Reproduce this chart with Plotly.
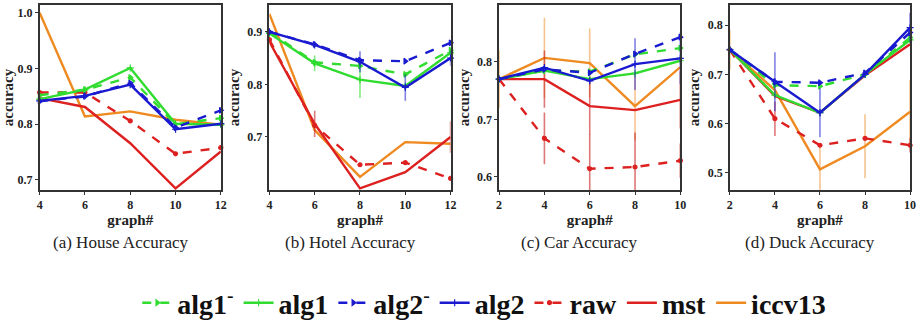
import plotly.graph_objects as go

# ---------------- data ----------------
series_names = ["alg1<sup>-</sup>", "alg1", "alg2<sup>-</sup>", "alg2", "raw", "mst", "iccv13"]
captions = ["(a) House Accuracy", "(b) Hotel Accuracy", "(c) Car Accuracy", "(d) Duck Accuracy"]

house_x = [4, 6, 8, 10, 12]
house_alg1m = [0.852, 0.862, 0.884, 0.800, 0.811]
house_alg1 = [0.845, 0.862, 0.901, 0.801, 0.799]
house_alg2m = [0.841, 0.850, 0.874, 0.794, 0.825]
house_alg2 = [0.842, 0.851, 0.871, 0.791, 0.801]
house_raw = [0.857, 0.857, 0.806, 0.747, 0.758]
house_mst = [0.847, 0.831, 0.766, 0.685, 0.751]
house_iccv = [1.000, 0.814, 0.823, 0.808, 0.799]

hotel_x = [4, 6, 8, 10, 12]
hotel_alg1m = [0.900, 0.842, 0.835, 0.819, 0.865]
hotel_alg1 = [0.897, 0.840, 0.809, 0.797, 0.860]
hotel_alg2m = [0.900, 0.876, 0.846, 0.844, 0.879]
hotel_alg2 = [0.900, 0.875, 0.843, 0.794, 0.850]
hotel_raw = [0.885, 0.722, 0.647, 0.651, 0.621]
hotel_mst = [0.881, 0.725, 0.602, 0.633, 0.700]
hotel_iccv = [0.934, 0.713, 0.624, 0.690, 0.687]
hotel_err_alg1 = [0.0, 0.015, 0.035, 0.0, 0.0]
hotel_err_alg2 = [0.0, 0.0, 0.02, 0.025, 0.015]
hotel_err_mst = [0.0, 0.025, 0.0, 0.0, 0.03]

car_x = [2, 4, 6, 8, 10]
car_alg1m = [0.770, 0.785, 0.783, 0.813, 0.824]
car_alg1 = [0.770, 0.785, 0.770, 0.780, 0.802]
car_alg2m = [0.770, 0.787, 0.781, 0.814, 0.843]
car_alg2 = [0.770, 0.790, 0.767, 0.796, 0.806]
car_raw = [0.770, 0.667, 0.614, 0.617, 0.628]
car_mst = [0.770, 0.770, 0.723, 0.716, 0.734]
car_iccv = [0.770, 0.807, 0.798, 0.723, 0.791]
car_err_alg2 = [0.0, 0.0, 0.0, 0.045, 0.045]
car_err_raw = [0.0, 0.045, 0.06, 0.06, 0.03]
car_err_mst = [0.0, 0.05, 0.05, 0.0, 0.05]
car_err_iccv = [0.05, 0.07, 0.06, 0.06, 0.0]

duck_x = [2, 4, 6, 8, 10]
duck_alg1m = [0.750, 0.678, 0.676, 0.700, 0.775]
duck_alg1 = [0.750, 0.658, 0.622, 0.700, 0.770]
duck_alg2m = [0.750, 0.685, 0.683, 0.703, 0.785]
duck_alg2 = [0.750, 0.685, 0.622, 0.700, 0.795]
duck_raw = [0.750, 0.610, 0.556, 0.570, 0.556]
duck_mst = [0.750, 0.656, 0.622, 0.698, 0.761]
duck_iccv = [0.750, 0.668, 0.507, 0.554, 0.624]
duck_err_alg2 = [0.0, 0.06, 0.05, 0.0, 0.03]
duck_err_raw = [0.0, 0.035, 0.0, 0.0, 0.015]
duck_err_iccv = [0.04, 0.0, 0.05, 0.065, 0.065]

house_yrange = [0.682, 1.014]
hotel_yrange = [0.599, 0.951]
car_yrange = [0.577, 0.899]
duck_yrange = [0.465, 0.841]

house_yticks = [0.7, 0.8, 0.9, 1.0]
hotel_yticks = [0.7, 0.8, 0.9]
car_yticks = [0.6, 0.7, 0.8]
duck_yticks = [0.5, 0.6, 0.7, 0.8]

# ---------------- styling ----------------
GREEN = "#2fdc2f"
BLUE = "#1a1ad0"
RED = "#dd2020"
ORANGE = "#ef8a20"
styles = [
    dict(color=GREEN, dash="dash", symbol="triangle-right", size=5),
    dict(color=GREEN, dash="solid", symbol="cross-thin", size=5),
    dict(color=BLUE, dash="dash", symbol="triangle-right", size=5),
    dict(color=BLUE, dash="solid", symbol="cross-thin", size=5),
    dict(color=RED, dash="dash", symbol="circle", size=4),
    dict(color=RED, dash="solid", symbol=None, size=0),
    dict(color=ORANGE, dash="solid", symbol=None, size=0),
]
err_colors = {GREEN: "rgba(47,220,47,0.6)", BLUE: "rgba(26,26,208,0.55)",
              RED: "rgba(200,30,30,0.6)", ORANGE: "rgba(239,138,32,0.5)"}

panels = [
    (house_x, [house_alg1m, house_alg1, house_alg2m, house_alg2, house_raw, house_mst, house_iccv],
     [None] * 7, house_yrange, house_yticks, [4, 12]),
    (hotel_x, [hotel_alg1m, hotel_alg1, hotel_alg2m, hotel_alg2, hotel_raw, hotel_mst, hotel_iccv],
     [None, hotel_err_alg1, None, hotel_err_alg2, None, hotel_err_mst, None], hotel_yrange, hotel_yticks, [4, 12]),
    (car_x, [car_alg1m, car_alg1, car_alg2m, car_alg2, car_raw, car_mst, car_iccv],
     [None, None, None, car_err_alg2, car_err_raw, car_err_mst, car_err_iccv], car_yrange, car_yticks, [2, 10]),
    (duck_x, [duck_alg1m, duck_alg1, duck_alg2m, duck_alg2, duck_raw, duck_mst, duck_iccv],
     [None, None, None, duck_err_alg2, duck_err_raw, None, duck_err_iccv], duck_yrange, duck_yticks, [2, 10]),
]

W, H = 924, 332
px_left = [37, 269, 501, 734]
px_right = [220, 452, 684, 916]
px_top, px_bottom = 5, 190

fig = go.Figure()
SERIF = "Liberation Serif"

order = [6, 4, 5, 1, 0, 3, 2]
for p, (xs, ys_list, errs, yr, yt, xr) in enumerate(panels):
    ax = "" if p == 0 else str(p + 1)
    for k in order:
        st = styles[k]
        err = errs[k]
        mode = "lines+markers" if st["symbol"] else "lines"
        tr = go.Scatter(
            x=xs, y=ys_list[k], mode=mode, name=series_names[k],
            legendgroup=series_names[k], showlegend=(p == 0), legendrank=k + 1,
            line=dict(color=st["color"], dash=st["dash"], width=2.4),
            xaxis="x" + ax, yaxis="y" + ax, cliponaxis=False,
        )
        if st["symbol"]:
            tr.marker = dict(symbol=st["symbol"], size=st["size"], color=st["color"],
                             line=dict(color=st["color"], width=1.2))
        if err is not None:
            tr.error_y = dict(type="data", array=err, visible=True, width=0,
                              thickness=1.6, color=err_colors[st["color"]])
        fig.add_trace(tr)

axis_font = dict(family=SERIF, size=12, color="#222", weight="bold")
title_font = dict(family=SERIF, size=15, color="#222", weight="bold")
for p, (xs, ys_list, errs, yr, yt, xr) in enumerate(panels):
    ax = "" if p == 0 else str(p + 1)
    xd = [px_left[p] / W, px_right[p] / W]
    yd = [(H - px_bottom) / H, (H - px_top) / H]
    fig.layout["xaxis" + ax] = dict(
        domain=xd, range=xr, tickvals=xs, anchor="y" + ax,
        showline=True, mirror=True, linecolor="#333", linewidth=1.5,
        ticks="outside", ticklen=3, tickcolor="#333", showgrid=False, zeroline=False,
        tickfont=axis_font,
        title=dict(text="graph#", font=title_font, standoff=1),
    )
    fig.layout["yaxis" + ax] = dict(
        domain=yd, range=yr, tickvals=yt, tickformat=".1f", anchor="x" + ax,
        showline=True, mirror=True, linecolor="#333", linewidth=1.5,
        ticks="outside", ticklen=3, tickcolor="#333", showgrid=False, zeroline=False,
        tickfont=axis_font,
        title=dict(text="accuracy", font=title_font, standoff=4),
    )
    fig.add_annotation(
        text=captions[p], x=(px_left[p] + px_right[p]) / 2 / W - 10 / W, y=(H - 242) / H,
        xref="paper", yref="paper", showarrow=False, xanchor="center", yanchor="middle",
        font=dict(family=SERIF, size=17, color="#222"),
    )

fig.update_layout(
    width=W, height=H, margin=dict(l=0, r=0, t=0, b=0),
    paper_bgcolor="white", plot_bgcolor="white",
    showlegend=True,
    legend=dict(orientation="h", x=486 / W, xanchor="center", y=(H - 303) / H, yanchor="middle",
                font=dict(family=SERIF, size=28, color="#111", weight="bold"),
                itemwidth=30, tracegroupgap=0, bgcolor="rgba(0,0,0,0)",
                traceorder="normal"),
)

fig.write_html("out.html", config={"displayModeBar": False},
               post_script="document.body.style.margin='0';document.body.style.padding='0';")
